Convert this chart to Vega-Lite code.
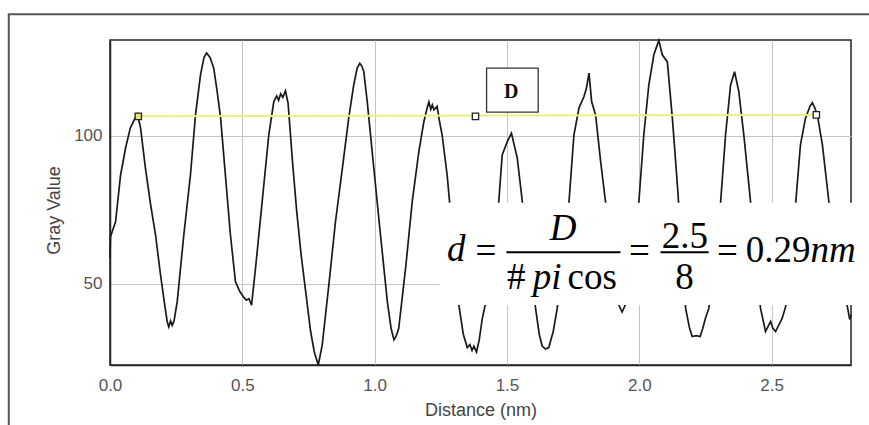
{
  "$schema": "https://vega.github.io/schema/vega-lite/v6.json",
  "width": 741,
  "height": 325,
  "autosize": {"type": "none"},
  "padding": {"left": 110, "top": 40, "right": 18, "bottom": 60},
  "background": "white",
  "config": {
    "view": {"stroke": "#222", "strokeWidth": 1.5},
    "axis": {
      "labelFont": "Liberation Sans",
      "titleFont": "Liberation Sans",
      "labelFontSize": 17,
      "titleFontSize": 18,
      "titleFontWeight": "normal",
      "labelColor": "#555",
      "titleColor": "#444",
      "ticks": false,
      "domainColor": "#222",
      "domainWidth": 1.5,
      "gridColor": "#c4c4c4",
      "gridWidth": 1
    }
  },
  "datasets": {
    "frame": [{"x": -0.3825, "x2": 3.1, "y": 141.1, "y2": 0}],
    "profile": [
      {"x": 0.0, "y": 59}, {"x": 0.002, "y": 66}, {"x": 0.021, "y": 71}, {"x": 0.040, "y": 86.8},
      {"x": 0.059, "y": 96}, {"x": 0.077, "y": 102.7}, {"x": 0.092, "y": 105.5}, {"x": 0.103, "y": 107.2},
      {"x": 0.115, "y": 103}, {"x": 0.134, "y": 89}, {"x": 0.153, "y": 77}, {"x": 0.172, "y": 66.6},
      {"x": 0.191, "y": 53}, {"x": 0.205, "y": 44}, {"x": 0.216, "y": 37.3}, {"x": 0.222, "y": 35.5},
      {"x": 0.229, "y": 37.5}, {"x": 0.235, "y": 36}, {"x": 0.242, "y": 37.5}, {"x": 0.254, "y": 44},
      {"x": 0.279, "y": 66.6}, {"x": 0.304, "y": 86.8}, {"x": 0.323, "y": 107}, {"x": 0.342, "y": 120.6},
      {"x": 0.355, "y": 126.5}, {"x": 0.365, "y": 128}, {"x": 0.378, "y": 126.5}, {"x": 0.392, "y": 122.9},
      {"x": 0.405, "y": 115}, {"x": 0.418, "y": 106}, {"x": 0.436, "y": 86.8}, {"x": 0.455, "y": 66.6},
      {"x": 0.474, "y": 50.8}, {"x": 0.490, "y": 47.5}, {"x": 0.505, "y": 45.5}, {"x": 0.515, "y": 44.5},
      {"x": 0.525, "y": 45}, {"x": 0.535, "y": 42.8}, {"x": 0.550, "y": 55.4}, {"x": 0.575, "y": 77.8},
      {"x": 0.600, "y": 100.3}, {"x": 0.619, "y": 111.6}, {"x": 0.630, "y": 113.5}, {"x": 0.637, "y": 112},
      {"x": 0.645, "y": 114.2}, {"x": 0.653, "y": 113}, {"x": 0.663, "y": 115.2}, {"x": 0.673, "y": 111},
      {"x": 0.689, "y": 92}, {"x": 0.705, "y": 75}, {"x": 0.722, "y": 60}, {"x": 0.740, "y": 47},
      {"x": 0.758, "y": 34}, {"x": 0.772, "y": 27}, {"x": 0.787, "y": 22.6}, {"x": 0.802, "y": 29.4},
      {"x": 0.815, "y": 40}, {"x": 0.827, "y": 49.7}, {"x": 0.852, "y": 71}, {"x": 0.878, "y": 89},
      {"x": 0.902, "y": 106}, {"x": 0.921, "y": 117.2}, {"x": 0.934, "y": 122.9}, {"x": 0.944, "y": 124.5},
      {"x": 0.952, "y": 123.5}, {"x": 0.959, "y": 121.7}, {"x": 0.972, "y": 111.6}, {"x": 0.997, "y": 89},
      {"x": 1.022, "y": 66.6}, {"x": 1.048, "y": 44}, {"x": 1.062, "y": 35}, {"x": 1.073, "y": 31.1},
      {"x": 1.082, "y": 32.5}, {"x": 1.091, "y": 35}, {"x": 1.117, "y": 55.3}, {"x": 1.142, "y": 77.8},
      {"x": 1.167, "y": 94.7}, {"x": 1.186, "y": 104.8}, {"x": 1.200, "y": 110}, {"x": 1.205, "y": 111.5},
      {"x": 1.212, "y": 109}, {"x": 1.218, "y": 110.5}, {"x": 1.224, "y": 108.8}, {"x": 1.236, "y": 110},
      {"x": 1.245, "y": 105}, {"x": 1.255, "y": 100.3}, {"x": 1.274, "y": 86.8}, {"x": 1.283, "y": 77.8},
      {"x": 1.318, "y": 43}, {"x": 1.335, "y": 33}, {"x": 1.350, "y": 28.5}, {"x": 1.360, "y": 29.5},
      {"x": 1.368, "y": 27.5}, {"x": 1.375, "y": 29}, {"x": 1.385, "y": 27}, {"x": 1.395, "y": 31},
      {"x": 1.407, "y": 38.4}, {"x": 1.418, "y": 43}, {"x": 1.469, "y": 77.8}, {"x": 1.482, "y": 93.6},
      {"x": 1.501, "y": 98}, {"x": 1.517, "y": 100.9}, {"x": 1.539, "y": 92.5}, {"x": 1.558, "y": 77.8},
      {"x": 1.608, "y": 41.8}, {"x": 1.622, "y": 33}, {"x": 1.633, "y": 29}, {"x": 1.645, "y": 28},
      {"x": 1.658, "y": 28.5}, {"x": 1.675, "y": 34}, {"x": 1.690, "y": 41.8}, {"x": 1.734, "y": 77.3},
      {"x": 1.753, "y": 100.3}, {"x": 1.772, "y": 109.4}, {"x": 1.791, "y": 113.3}, {"x": 1.800, "y": 116},
      {"x": 1.810, "y": 121.2}, {"x": 1.820, "y": 111.6}, {"x": 1.835, "y": 107}, {"x": 1.854, "y": 91.3},
      {"x": 1.873, "y": 77.3}, {"x": 1.922, "y": 43}, {"x": 1.935, "y": 40.5}, {"x": 1.948, "y": 43},
      {"x": 1.998, "y": 77.3}, {"x": 2.017, "y": 100.3}, {"x": 2.036, "y": 117.2}, {"x": 2.055, "y": 127.4},
      {"x": 2.065, "y": 130}, {"x": 2.074, "y": 132.2}, {"x": 2.087, "y": 127.4}, {"x": 2.106, "y": 125},
      {"x": 2.125, "y": 106}, {"x": 2.144, "y": 83.4}, {"x": 2.175, "y": 41.8}, {"x": 2.190, "y": 35},
      {"x": 2.200, "y": 32.2}, {"x": 2.215, "y": 32.5}, {"x": 2.230, "y": 32.2}, {"x": 2.240, "y": 35},
      {"x": 2.250, "y": 38.4}, {"x": 2.263, "y": 41.8}, {"x": 2.307, "y": 77.3}, {"x": 2.326, "y": 100.3},
      {"x": 2.345, "y": 117.2}, {"x": 2.360, "y": 121.7}, {"x": 2.376, "y": 115}, {"x": 2.395, "y": 100.3},
      {"x": 2.421, "y": 77.3}, {"x": 2.458, "y": 41.8}, {"x": 2.477, "y": 33.9}, {"x": 2.496, "y": 37.3},
      {"x": 2.505, "y": 35}, {"x": 2.515, "y": 33.9}, {"x": 2.540, "y": 38.4}, {"x": 2.553, "y": 42.3},
      {"x": 2.591, "y": 77.3}, {"x": 2.609, "y": 97}, {"x": 2.628, "y": 106}, {"x": 2.645, "y": 110},
      {"x": 2.654, "y": 111.2}, {"x": 2.663, "y": 109.5}, {"x": 2.673, "y": 107}, {"x": 2.692, "y": 97},
      {"x": 2.717, "y": 77.3}, {"x": 2.786, "y": 42.5}, {"x": 2.795, "y": 38}, {"x": 2.800, "y": 39.5}
    ],
    "selection": [{"x": 0.107, "y": 106.6, "x2": 2.669, "y2": 107.1}],
    "handles": [
      {"x": 0.107, "y": 106.6, "handle": "start"},
      {"x": 1.381, "y": 106.6, "handle": "middle"},
      {"x": 2.669, "y": 107.1, "handle": "end"}
    ],
    "labelBox": [{"x": 1.423, "x2": 1.618, "y": 108, "y2": 122.9}],
    "labelText": [{"x": 1.516, "y": 115, "t": "D"}],
    "whiteBox": [{"x": 1.245, "x2": 3.1, "y": 42.9, "y2": 77.4}],
    "bars": [
      {"x": 1.498, "x2": 1.929, "y": 60.7},
      {"x": 2.080, "x2": 2.262, "y": 60.7}
    ],
    "upright": [
      {"x": 1.421, "y": 57.2, "t": "="},
      {"x": 1.535, "y": 48.3, "t": "#"},
      {"x": 1.822, "y": 48.3, "t": "cos"},
      {"x": 2.001, "y": 57.2, "t": "="},
      {"x": 2.172, "y": 62.1, "t": "2.5"},
      {"x": 2.171, "y": 48.2, "t": "8"},
      {"x": 2.333, "y": 57.2, "t": "="},
      {"x": 2.525, "y": 57.5, "t": "0.29"}
    ],
    "italic": [
      {"x": 1.308, "y": 57.8, "t": "d"},
      {"x": 1.712, "y": 64.9, "t": "D"},
      {"x": 1.652, "y": 48.3, "t": "pi"},
      {"x": 2.732, "y": 57.5, "t": "nm"}
    ]
  },
  "encoding": {
    "x": {
      "field": "x",
      "type": "quantitative",
      "scale": {"domain": [0, 2.8], "nice": false, "zero": false},
      "axis": {
        "title": "Distance (nm)",
        "values": [0, 0.5, 1, 1.5, 2, 2.5],
        "format": ".1f",
        "labelPadding": 12,
        "titlePadding": 8,
        "labelFlush": false
      }
    },
    "y": {
      "field": "y",
      "type": "quantitative",
      "scale": {"domain": [22.6, 132.4], "nice": false, "zero": false},
      "axis": {
        "title": "Gray Value",
        "values": [50, 100],
        "labelPadding": 8,
        "titlePadding": 10,
        "titleY": 170
      }
    }
  },
  "layer": [
    {
      "data": {"name": "frame"},
      "mark": {"type": "rect", "filled": false, "stroke": "#555", "strokeWidth": 2, "clip": false},
      "encoding": {"x2": {"field": "x2"}, "y2": {"field": "y2"}}
    },
    {
      "data": {"name": "profile"},
      "mark": {"type": "line", "color": "#1a1a1a", "strokeWidth": 1.7}
    },
    {
      "data": {"name": "selection"},
      "mark": {"type": "rule", "color": "#eeee80", "strokeWidth": 2},
      "encoding": {"x2": {"field": "x2"}, "y2": {"field": "y2"}}
    },
    {
      "data": {"name": "handles"},
      "mark": {"type": "point", "shape": "square", "size": 40, "filled": true, "stroke": "#222", "strokeWidth": 1.3, "opacity": 1},
      "encoding": {
        "fill": {
          "field": "handle",
          "type": "nominal",
          "scale": {"domain": ["start", "middle", "end"], "range": ["#e4e47a", "#ffffff", "#ffffff"]},
          "legend": null
        }
      }
    },
    {
      "data": {"name": "labelBox"},
      "mark": {"type": "rect", "fill": "white", "stroke": "#333", "strokeWidth": 1.3},
      "encoding": {"x2": {"field": "x2"}, "y2": {"field": "y2"}}
    },
    {
      "data": {"name": "labelText"},
      "mark": {"type": "text", "font": "Liberation Serif", "fontWeight": "bold", "fontSize": 20, "color": "#111", "align": "center", "baseline": "middle"},
      "encoding": {"text": {"field": "t"}}
    },
    {
      "data": {"name": "whiteBox"},
      "mark": {"type": "rect", "fill": "white", "strokeWidth": 0, "clip": false},
      "encoding": {"x2": {"field": "x2"}, "y2": {"field": "y2"}}
    },
    {
      "data": {"name": "bars"},
      "mark": {"type": "rule", "color": "#000", "strokeWidth": 1.8},
      "encoding": {"x2": {"field": "x2"}}
    },
    {
      "data": {"name": "upright"},
      "mark": {"type": "text", "font": "Liberation Serif", "fontSize": 37, "color": "#000", "align": "center", "baseline": "alphabetic"},
      "encoding": {"text": {"field": "t"}}
    },
    {
      "data": {"name": "italic"},
      "mark": {"type": "text", "font": "Liberation Serif", "fontStyle": "italic", "fontSize": 37, "color": "#000", "align": "center", "baseline": "alphabetic"},
      "encoding": {"text": {"field": "t"}}
    }
  ]
}
